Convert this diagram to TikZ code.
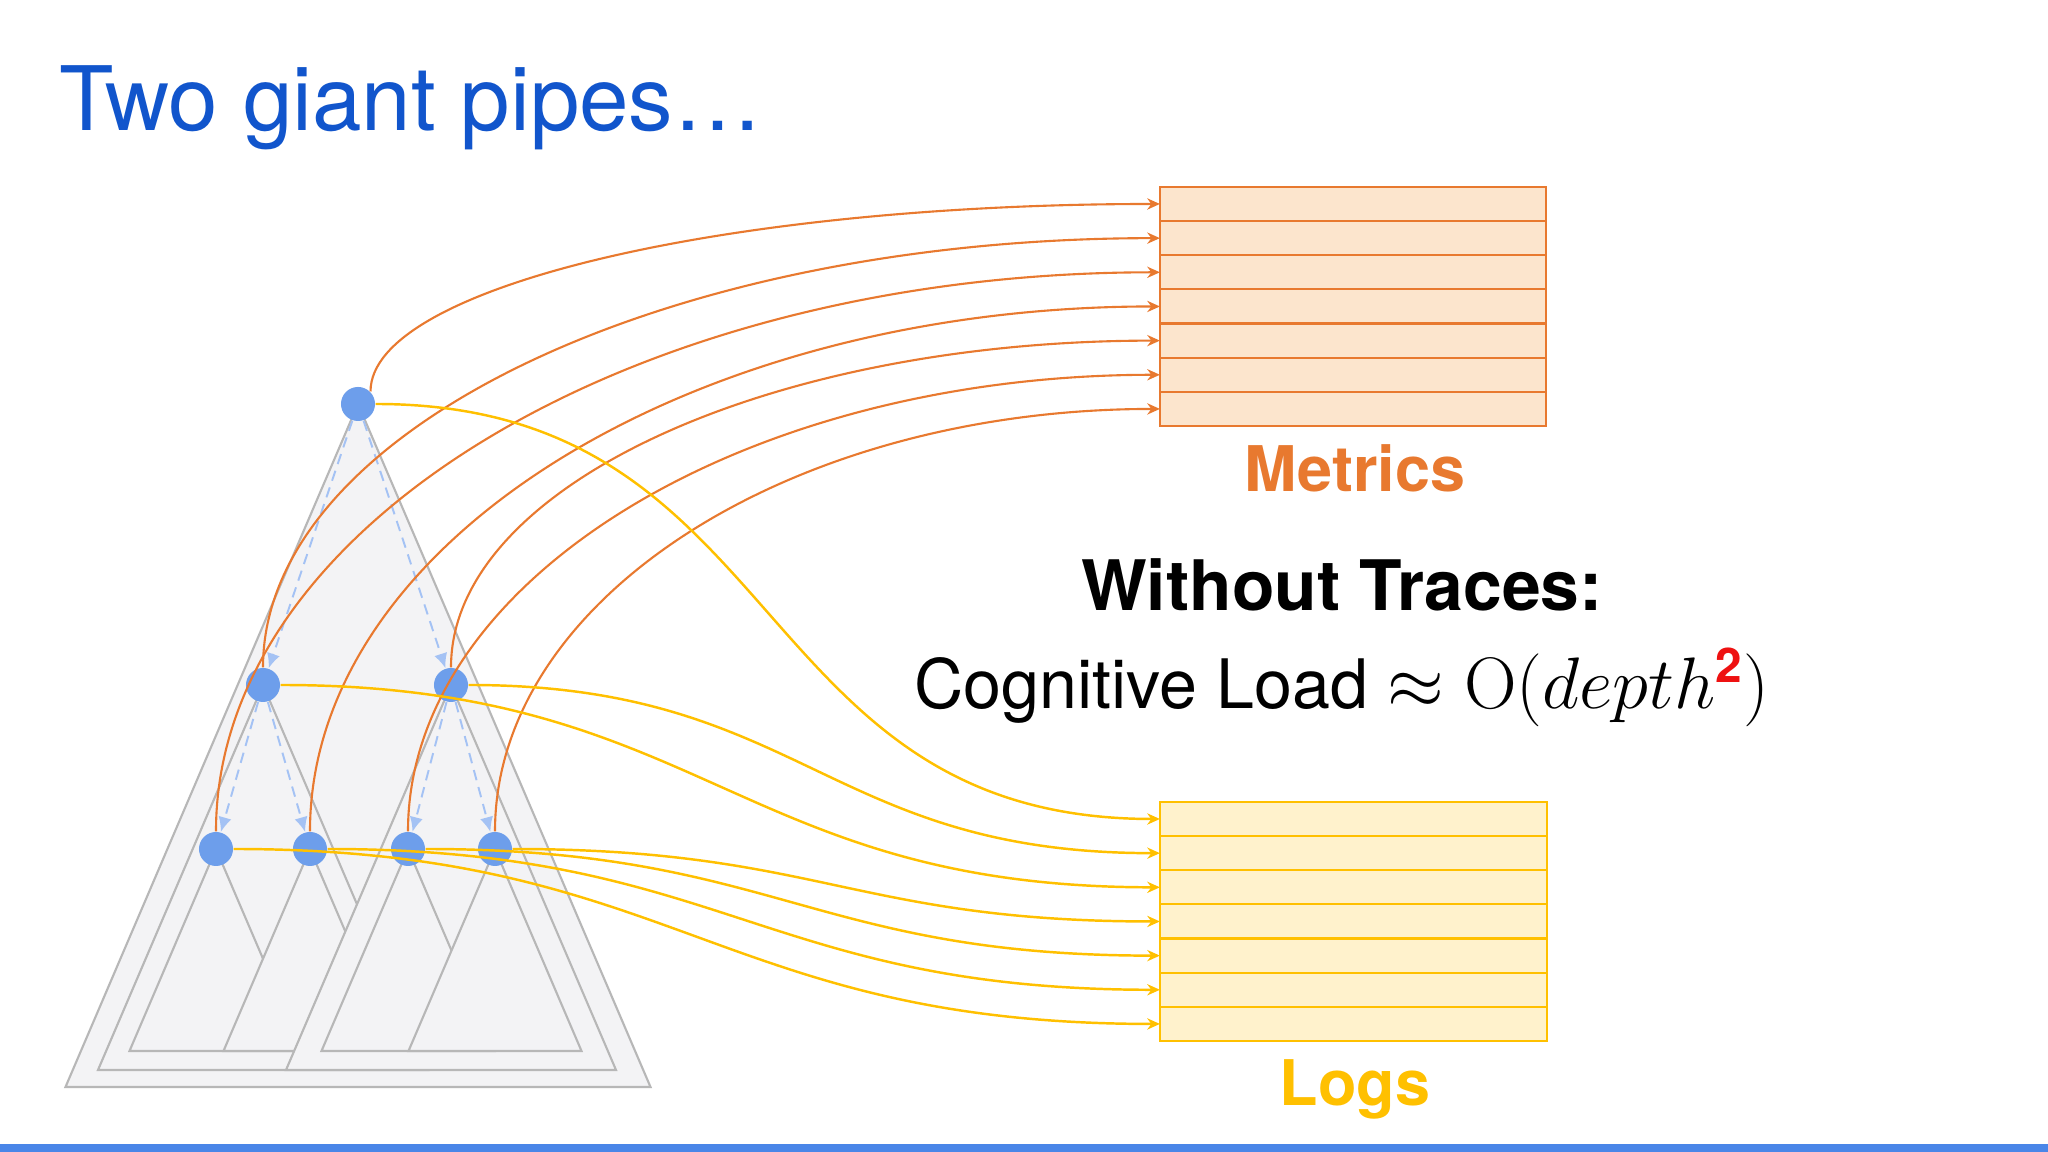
\documentclass[tikz,border=0pt]{standalone}
\usepackage[no-math]{fontspec}
\setmainfont{TeX Gyre Heros}
\usepackage{amsmath}
\usetikzlibrary{positioning, arrows.meta}

\definecolor{titleblue}{HTML}{1155CC}
\definecolor{barblue}{HTML}{4A86E8}
\definecolor{nodeblue}{HTML}{6D9EEB}
\definecolor{dashblue}{HTML}{A4C2F4}
\definecolor{treegray}{HTML}{B7B7B7}
\definecolor{treefill}{HTML}{F3F3F5}
\definecolor{metricorange}{HTML}{E8792F}
\definecolor{metricfill}{HTML}{FCE5CD}
\definecolor{logyellow}{HTML}{FFC000}
\definecolor{logfill}{HTML}{FFF2CC}
\definecolor{sqred}{HTML}{EE1111}

\begin{document}
\begin{tikzpicture}[x=0.01cm, y=0.01cm,
    tri/.style={draw=treegray, fill=treefill, line width=0.6pt},
    dot/.style={circle, fill=nodeblue, minimum size=0.34cm, inner sep=0pt},
    hop/.style={dashblue, line width=0.55pt, dash pattern=on 3pt off 2pt,
        -{Latex[length=4.2pt, width=3.8pt]}},
    mrow/.style={draw=metricorange, fill=metricfill, line width=0.6pt,
        minimum width=3.86cm, minimum height=0.3414cm, inner sep=0pt, outer sep=0pt},
    lrow/.style={draw=logyellow, fill=logfill, line width=0.6pt,
        minimum width=3.87cm, minimum height=0.3414cm, inner sep=0pt, outer sep=0pt},
    metric/.style={metricorange, line width=0.6pt, -{Stealth[length=3.6pt, width=3.2pt]}},
    logline/.style={logyellow, line width=0.7pt, -{Stealth[length=3.6pt, width=3.2pt]},
        out=0, in=180, looseness=1.2},
    pipelabel/.style={font=\fontsize{17.9}{21}\selectfont\bfseries, anchor=base}]

    % Page
    \fill[white] (0,0) rectangle (2048,1152);
    \fill[barblue] (0,0) rectangle (2048,8);
    \useasboundingbox (0,0) rectangle (2048,1152);

    % Title
    \node[anchor=base west, inner sep=0pt, text=titleblue,
        font=\fontsize{25.3}{30}\selectfont] (title) at (59,1021) {Two giant pipes…};

    % Points
    \coordinate (p0) at (358,748);
    \coordinate (p1) at (263,467);
    \coordinate (p2) at (451,467);
    \coordinate (p3) at (216,303);
    \coordinate (p4) at (310,303);
    \coordinate (p5) at (408,303);
    \coordinate (p6) at (495,303);

    % Subtrees
    \draw[tri] (p0) -- ++(-292.5,-683) -- ++(585,0) -- cycle;
    \draw[tri] (p1) -- ++(-165,-385) -- ++(330,0) -- cycle;
    \draw[tri] (p3) -- ++(-86.5,-202) -- ++(173,0) -- cycle;
    \draw[tri] (p4) -- ++(-86.5,-202) -- ++(173,0) -- cycle;
    \draw[tri] (p2) -- ++(-165,-385) -- ++(330,0) -- cycle;
    \draw[tri] (p5) -- ++(-86.5,-202) -- ++(173,0) -- cycle;
    \draw[tri] (p6) -- ++(-86.5,-202) -- ++(173,0) -- cycle;

    % Calls
    \node[dot] (root) at (p0) {};
    \node[dot] (a1) at (p1) {};
    \node[dot] (a2) at (p2) {};
    \node[dot] (b1) at (p3) {};
    \node[dot] (b2) at (p4) {};
    \node[dot] (b3) at (p5) {};
    \node[dot] (b4) at (p6) {};

    \draw[hop] (root) -- (a1);
    \draw[hop] (root) -- (a2);
    \draw[hop] (a1) -- (b1);
    \draw[hop] (a1) -- (b2);
    \draw[hop] (a2) -- (b3);
    \draw[hop] (a2) -- (b4);

    % Metrics pipe
    \node[mrow] (m1) at (1353,948) {};
    \node[mrow, below=0pt of m1] (m2) {};
    \node[mrow, below=0pt of m2] (m3) {};
    \node[mrow, below=0pt of m3] (m4) {};
    \node[mrow, below=0pt of m4] (m5) {};
    \node[mrow, below=0pt of m5] (m6) {};
    \node[mrow, below=0pt of m6] (m7) {};
    \node[pipelabel, text=metricorange] (mlabel) at (1355,660) {Metrics};

    % Logs pipe
    \node[lrow] (lg1) at (1353.5,333) {};
    \node[lrow, below=0pt of lg1] (lg2) {};
    \node[lrow, below=0pt of lg2] (lg3) {};
    \node[lrow, below=0pt of lg3] (lg4) {};
    \node[lrow, below=0pt of lg4] (lg5) {};
    \node[lrow, below=0pt of lg5] (lg6) {};
    \node[lrow, below=0pt of lg6] (lg7) {};
    \node[pipelabel, text=logyellow] (glabel) at (1355,46) {Logs};

    % Text
    \node[anchor=base, font=\fontsize{19.8}{24}\selectfont\bfseries] (head) at (1342,541)
        {Without Traces:};
    \node[anchor=base, font=\fontsize{19.4}{24}\selectfont] (load) at (1342,443)
        {Cognitive Load $\approx \mathrm{O}(depth^{\text{\color{sqred}\bfseries 2}})$};

    % Metric connectors
    \draw[metric] (root.north east) .. controls +(0,104) and +(-436,0) .. (m1.west);
    \draw[metric] (a1.north) .. controls +(0,237) and +(-495,0) .. (m2.west);
    \draw[metric] (b1.north) .. controls +(0,309) and +(-521,0) .. (m3.west);
    \draw[metric] (b2.north) .. controls +(0,290) and +(-469,0) .. (m4.west);
    \draw[metric] (a2.north) .. controls +(0,181) and +(-391,0) .. (m5.west);
    \draw[metric] (b3.north) .. controls +(0,252) and +(-415,0) .. (m6.west);
    \draw[metric] (b4.north) .. controls +(0,234) and +(-367,0) .. (m7.west);

    % Log connectors
    \draw[logline] (root.east) to (lg1.west);
    \draw[logline] (a2.east) to (lg2.west);
    \draw[logline] (a1.east) to (lg3.west);
    \draw[logline] (b4.east) to (lg4.west);
    \draw[logline] (b3.east) to (lg5.west);
    \draw[logline] (b2.east) to (lg6.west);
    \draw[logline] (b1.east) to (lg7.west);

\end{tikzpicture}
\end{document}
